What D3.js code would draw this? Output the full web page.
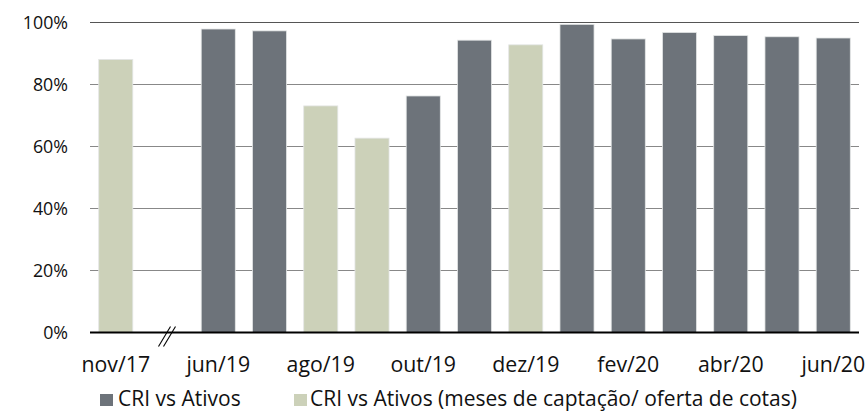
<!DOCTYPE html>
<html><head><meta charset="utf-8">
<script src="https://cdn.jsdelivr.net/npm/d3@7"></script>
<style>body{margin:0;background:#fff}svg{display:block}text{font-family:"Open Sans","Noto Sans",sans-serif;fill:#111}</style>
</head><body><div id="chart"></div>
<script>
const categories = ["nov/17","gap","jun/19","jul/19","ago/19","set/19","out/19","nov/19","dez/19","jan/20","fev/20","mar/20","abr/20","mai/20","jun/20"];
const values = [88.1,null,97.9,97.3,73.1,62.7,76.3,94.3,92.8,99.4,94.7,96.8,95.8,95.4,95.0];
const seriesType = ["captacao",null,"ativos","ativos","captacao","captacao","ativos","ativos","captacao","ativos","ativos","ativos","ativos","ativos","ativos"];
const tickLabels = ["nov/17","jun/19","ago/19","out/19","dez/19","fev/20","abr/20","jun/20"];
const yTicks = [0,20,40,60,80,100];
const seriesNames = {ativos:"CRI vs Ativos", captacao:"CRI vs Ativos (meses de captação/ oferta de cotas)"};
const colors = {ativos:"#6d737a", captacao:"#ccd1b9"};

const W=868,H=412, m={l:90,r:9,t:22.5,b:79.5};
const svg=d3.select("#chart").append("svg").attr("width",W).attr("height",H);
const x=d3.scaleBand().domain(categories).range([m.l,W-m.r]).paddingInner(0.335).paddingOuter(0.17);
const y=d3.scaleLinear().domain([0,100]).range([H-m.b,m.t]);

svg.append("g").selectAll("line").data(yTicks.filter(d=>d>0)).join("line")
 .attr("x1",m.l).attr("x2",W-m.r).attr("y1",d=>y(d)).attr("y2",d=>y(d))
 .attr("stroke",d=>d===100?"#555":"#888").attr("stroke-width",1);

svg.append("g").selectAll("text").data(yTicks).join("text")
 .attr("x",68).attr("y",d=>y(d)).attr("dy","0.36em").attr("text-anchor","end")
 .attr("font-size",17.8).text(d=>d+"%");

const data=categories.map((c,i)=>({c,v:values[i],s:seriesType[i]})).filter(d=>d.v!=null);
svg.append("g").selectAll("rect").data(data).join("rect")
 .attr("x",d=>x(d.c)).attr("width",x.bandwidth())
 .attr("y",d=>y(d.v)).attr("height",d=>y(0)-y(d.v))
 .attr("fill",d=>colors[d.s]).attr("stroke","#e4e6e6").attr("stroke-width",0.8);

svg.append("line").attr("x1",m.l).attr("x2",W-m.r).attr("y1",y(0)).attr("y2",y(0))
 .attr("stroke","#000").attr("stroke-width",2);

// axis break marks
const gx=x("gap")+x.bandwidth()/2;
[-2.5,2.5].forEach(o=>{
 svg.append("line").attr("x1",gx+o-6).attr("y1",y(0)+14).attr("x2",gx+o+6).attr("y2",y(0)-6)
  .attr("stroke","#000").attr("stroke-width",1.1);
});

svg.append("g").selectAll("text").data(tickLabels).join("text")
 .attr("x",d=>x(d)+x.bandwidth()/2).attr("y",372).attr("text-anchor","middle")
 .attr("font-size",21.3).text(d=>d);

const leg=[{k:"ativos",x:100,tx:118},{k:"captacao",x:294,tx:310}];
leg.forEach(l=>{
 svg.append("rect").attr("x",l.x).attr("y",394).attr("width",13).attr("height",12).attr("fill",colors[l.k]);
 svg.append("text").attr("x",l.tx).attr("y",406).attr("font-size",21).text(seriesNames[l.k]);
});
</script></body></html>
